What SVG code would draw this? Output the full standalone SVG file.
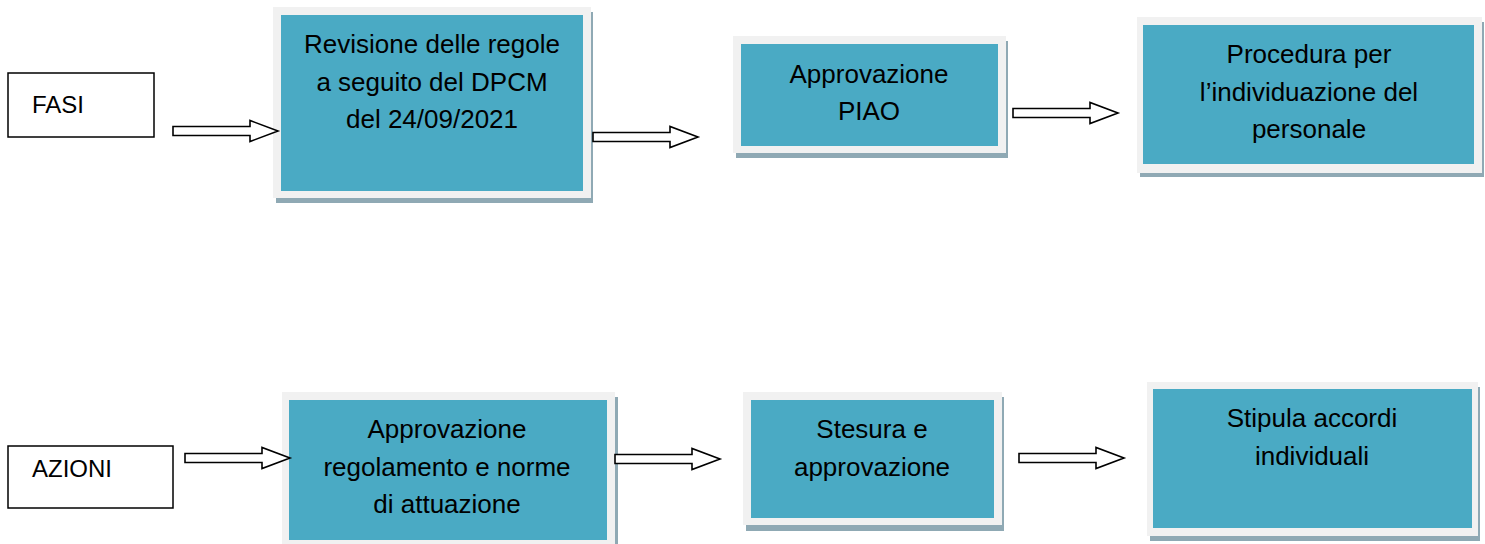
<svg xmlns="http://www.w3.org/2000/svg" xmlns:xlink="http://www.w3.org/1999/xlink" width="1485" height="544" viewBox="0 0 1485 544">
  <style>
    .shadow { fill: #8fa9b4; }
    .frame { fill: #f1f1f1; }
    .fill { fill: #4aaac4; }
    .lbl { fill: #fff; stroke: #000; stroke-width: 1.5; }
    .t { font-family: "Liberation Sans", Arial, sans-serif; font-size: 26px; fill: #000; text-anchor: middle; }
    .tl { font-family: "Liberation Sans", Arial, sans-serif; font-size: 24px; fill: #000; }
    .arrow { fill: #fff; stroke: #000; stroke-width: 1.6; stroke-linejoin: miter; }
  </style>
  <defs>
    <path id="blockArrow" d="M0,-4.5 H77 V-10.5 L105,0 L77,10.5 V4.5 H0 Z"/>
  </defs>
  <rect width="1485" height="544" fill="#fff"/>

  <g id="fasi">
    <rect class="lbl" x="8" y="73" width="146" height="64"/>
    <text class="tl" x="32" y="113">FASI</text>
  </g>

  <g id="azioni">
    <rect class="lbl" x="8" y="446" width="165" height="62"/>
    <text class="tl" x="32" y="477">AZIONI</text>
  </g>

  <g id="revisione">
    <rect class="shadow" x="276" y="12" width="317" height="191"/>
    <rect class="frame" x="273" y="7" width="318" height="191"/>
    <rect class="fill" x="281" y="15" width="302" height="176"/>
    <text class="t" x="432" y="53">Revisione delle regole</text>
    <text class="t" x="432" y="91">a seguito del DPCM</text>
    <text class="t" x="432" y="128">del 24/09/2021</text>
  </g>

  <g id="piao">
    <rect class="shadow" x="736" y="41" width="272" height="117"/>
    <rect class="frame" x="733" y="36" width="273" height="117"/>
    <rect class="fill" x="741" y="44" width="257" height="102"/>
    <text class="t" x="869" y="83">Approvazione</text>
    <text class="t" x="869" y="120">PIAO</text>
  </g>

  <g id="procedura">
    <rect class="shadow" x="1140" y="22" width="344" height="155"/>
    <rect class="frame" x="1137" y="17" width="345" height="156"/>
    <rect class="fill" x="1143" y="25" width="331" height="139"/>
    <text class="t" x="1309" y="63">Procedura per</text>
    <text class="t" x="1309" y="101">l’individuazione del</text>
    <text class="t" x="1309" y="138">personale</text>
  </g>

  <g id="regolamento">
    <rect class="shadow" x="285" y="397" width="333" height="150"/>
    <rect class="frame" x="282" y="392" width="333" height="152"/>
    <rect class="fill" x="289" y="400" width="318" height="140"/>
    <text class="t" x="447" y="438">Approvazione</text>
    <text class="t" x="447" y="476">regolamento e norme</text>
    <text class="t" x="447" y="513">di attuazione</text>
  </g>

  <g id="stesura">
    <rect class="shadow" x="746" y="397" width="258" height="134"/>
    <rect class="frame" x="743" y="392" width="259" height="133"/>
    <rect class="fill" x="751" y="400" width="243" height="118"/>
    <text class="t" x="872" y="438">Stesura e</text>
    <text class="t" x="872" y="476">approvazione</text>
  </g>

  <g id="stipula">
    <rect class="shadow" x="1150" y="387" width="330" height="154"/>
    <rect class="frame" x="1147" y="382" width="331" height="154"/>
    <rect class="fill" x="1153" y="389" width="319" height="139"/>
    <text class="t" x="1312" y="427">Stipula accordi</text>
    <text class="t" x="1312" y="465">individuali</text>
  </g>

  <g id="connectors">
    <use xlink:href="#blockArrow" href="#blockArrow" class="arrow" transform="translate(173,131)"/>
    <use xlink:href="#blockArrow" href="#blockArrow" class="arrow" transform="translate(593,137)"/>
    <use xlink:href="#blockArrow" href="#blockArrow" class="arrow" transform="translate(1013,113)"/>
    <use xlink:href="#blockArrow" href="#blockArrow" class="arrow" transform="translate(185,458)"/>
    <use xlink:href="#blockArrow" href="#blockArrow" class="arrow" transform="translate(615,459)"/>
    <use xlink:href="#blockArrow" href="#blockArrow" class="arrow" transform="translate(1019,458)"/>
  </g>
</svg>
